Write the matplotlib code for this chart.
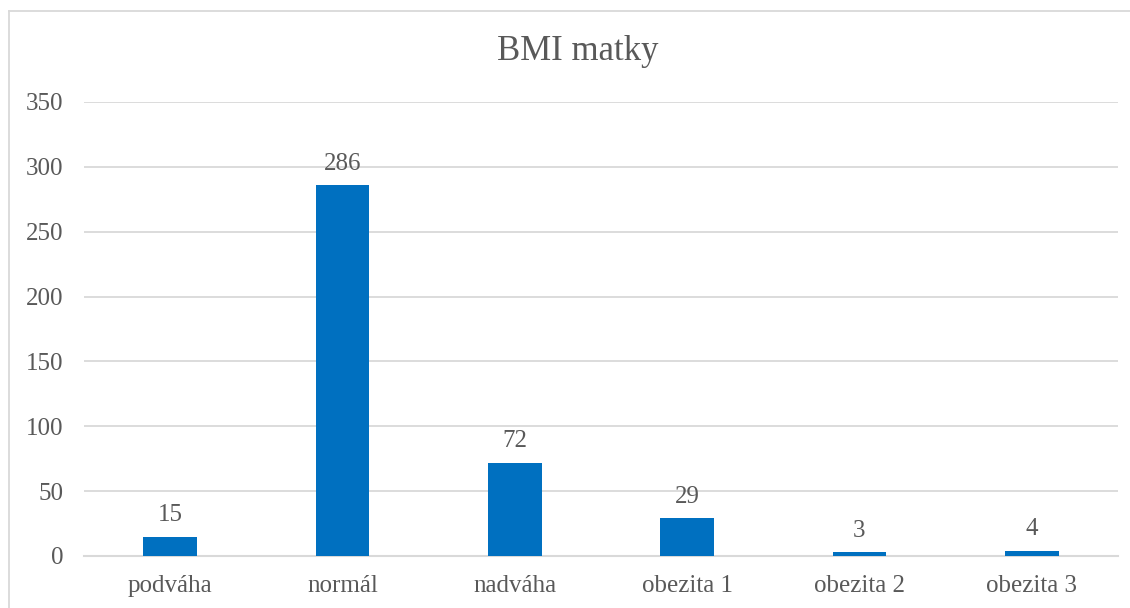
import matplotlib.pyplot as plt
from matplotlib.lines import Line2D

categories = ["podváha", "normál", "nadváha", "obezita 1", "obezita 2", "obezita 3"]
counts = [15, 286, 72, 29, 3, 4]
yticks = [0, 50, 100, 150, 200, 250, 300, 350]

plt.rcParams['font.family'] = ['Liberation Serif', 'DejaVu Serif']
text_col = "#595959"
grid_col = "#d9d9d9"

fig = plt.figure(figsize=(11.3, 6.08), dpi=100)
ax = fig.add_axes([84 / 1130, 1 - 556 / 608, (1118 - 84) / 1130, (556 - 102) / 608])

x = range(len(categories))
ax.bar(x, counts, width=0.31, color="#0070C0", zorder=3)
for xi, v in zip(x, counts):
    ax.text(xi, v + 8, str(v), ha="center", va="bottom", fontsize=18, color=text_col)

ax.set_xlim(-0.5, len(categories) - 0.5)
ax.set_ylim(0, 350)
ax.set_yticks(yticks)
ax.set_xticks(list(x))
ax.set_xticklabels(categories)
ax.tick_params(axis="both", length=0, labelsize=18, labelcolor=text_col)
ax.tick_params(axis="y", pad=15)
ax.tick_params(axis="x", pad=14)
ax.grid(axis="y", color=grid_col, linewidth=1.3, zorder=0)
for s in ["top", "right", "left"]:
    ax.spines[s].set_visible(False)
ax.spines["bottom"].set_color(grid_col)
ax.spines["bottom"].set_linewidth(1.5)

# title centred on the chart area rather than the plot area
fig.text(578 / 1130, 1 - 52 / 608, "BMI matky", fontsize=25, color=text_col,
         ha="center", va="center")

# chart border (left and top edges visible)
fig.add_artist(Line2D([9 / 1130, 9 / 1130], [0, 1 - 11 / 608], color=grid_col, linewidth=1.3))
fig.add_artist(Line2D([9 / 1130, 1], [1 - 11 / 608, 1 - 11 / 608], color=grid_col, linewidth=1.3))

fig.savefig("out.png", dpi=100)
